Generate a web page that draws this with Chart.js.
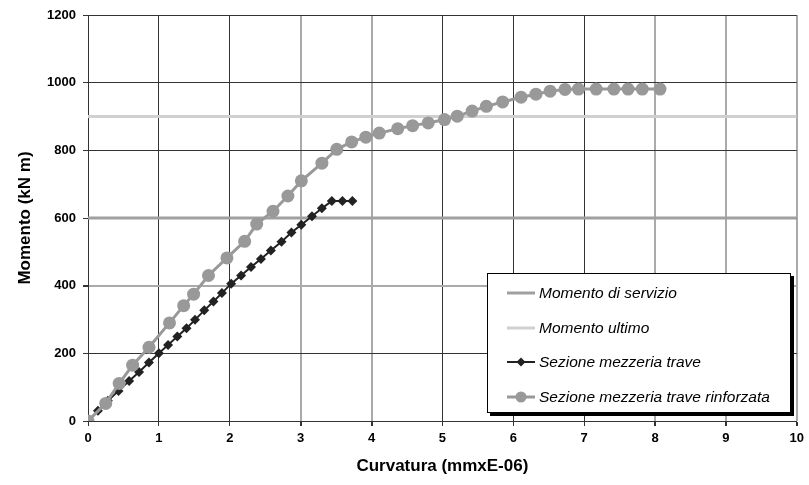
<!DOCTYPE html>
<html>
<head>
<meta charset="utf-8">
<script src="https://cdn.jsdelivr.net/npm/chart.js@4.4.0/dist/chart.umd.min.js"></script>
<style>
  body { margin: 0; background: #fff; }
  #wrap { position: relative; width: 809px; height: 485px; }
  #legenda {
    position: absolute; left: 487px; top: 273px; width: 304px; height: 140px;
    box-sizing: border-box; border: 1px solid #000; background: #fff;
    box-shadow: 3px 3px 0 #000;
    font-family: "Liberation Sans", Arial, sans-serif; font-style: italic; font-size: 15.5px; color: #000;
    padding-top: 2px;
  }
  #legenda .voce { height: 34.5px; display: flex; align-items: center; }
  #legenda svg { margin-left: 19px; margin-right: 4px; }
</style>
</head>
<body>
<div id="wrap">
  <canvas id="grafico" width="809" height="485"></canvas>
  <div id="legenda"></div>
</div>
<script>
// linee orizzontali (momento di servizio / ultimo)
let lineaX = [0, 10];
let servizio = [600, 600];
let ultimo = [900, 900];

// sezione mezzeria trave
let traveX = [0, 0.14, 0.28, 0.43, 0.58, 0.72, 0.86, 1.0, 1.13, 1.26, 1.39, 1.51, 1.64, 1.77, 1.89, 2.02, 2.16, 2.30, 2.44, 2.58, 2.73, 2.87, 3.01, 3.16, 3.30, 3.44, 3.59, 3.73];
let traveY = [0, 30, 60, 89, 118, 145, 173, 200, 225, 250, 274, 299, 327, 353, 378, 406, 430, 455, 479, 504, 530, 557, 580, 605, 629, 650, 650, 650];

// sezione mezzeria trave rinforzata
let rinfX = [0, 0.25, 0.44, 0.63, 0.86, 1.15, 1.35, 1.49, 1.70, 1.96, 2.21, 2.38, 2.61, 2.82, 3.01, 3.30, 3.51, 3.72, 3.92, 4.11, 4.37, 4.58, 4.80, 5.03, 5.21, 5.42, 5.62, 5.85, 6.11, 6.32, 6.52, 6.73, 6.92, 7.17, 7.42, 7.62, 7.82, 8.07];
let rinfY = [0, 52, 111, 165, 218, 290, 341, 375, 430, 482, 531, 582, 620, 665, 710, 762, 803, 825, 839, 851, 864, 873, 881, 891, 901, 916, 930, 943, 957, 966, 975, 980, 981, 981, 981, 981, 981, 981];

let xTicks = [0, 1, 2, 3, 4, 5, 6, 7, 8, 9, 10];
let yTicks = [0, 200, 400, 600, 800, 1000, 1200];

function punti(xs, ys) {
    return xs.map((x, i) => ({ x: x, y: ys[i] }));
}

let font = '"Liberation Sans", Arial, sans-serif';
let scuro = '#333333';
let chiaro = '#aaaaaa';

// griglia: alcune linee escono più chiare, come nell'originale
function coloreX(c) {
    let v = c.tick ? c.tick.value : 0;
    return [3, 4, 8, 9, 10].includes(v) ? chiaro : scuro;
}
function spessoreX(c) {
    let v = c.tick ? c.tick.value : 0;
    return [3, 4, 8, 9, 10].includes(v) ? 2 : 1;
}
function coloreY(c) {
    let v = c.tick ? c.tick.value : 0;
    return v == 400 ? chiaro : scuro;
}
function spessoreY(c) {
    let v = c.tick ? c.tick.value : 0;
    return v == 400 ? 2 : 1;
}

let grafico = new Chart(document.getElementById('grafico'), {
    type: 'line',
    data: {
        datasets: [
            {
                label: 'Momento di servizio',
                data: punti(lineaX, servizio),
                borderColor: '#a0a0a0',
                borderWidth: 3,
                pointRadius: 0,
                order: 3
            },
            {
                label: 'Momento ultimo',
                data: punti(lineaX, ultimo),
                borderColor: '#d0d0d0',
                borderWidth: 3,
                pointRadius: 0,
                order: 4
            },
            {
                label: 'Sezione mezzeria trave',
                data: punti(traveX, traveY),
                borderColor: '#222222',
                backgroundColor: '#222222',
                borderWidth: 2,
                pointStyle: 'rectRot',
                pointRadius: 5,
                pointBorderWidth: 0,
                order: 2
            },
            {
                label: 'Sezione mezzeria trave rinforzata',
                data: punti(rinfX, rinfY),
                borderColor: '#999999',
                backgroundColor: '#999999',
                borderWidth: 3,
                pointStyle: 'circle',
                pointRadius: 6.5,
                pointBorderWidth: 0,
                order: 1
            }
        ]
    },
    options: {
        responsive: false,
        animation: false,
        layout: { padding: { top: 15, right: 11 } },
        plugins: {
            legend: { display: false },
            tooltip: { enabled: false }
        },
        scales: {
            x: {
                type: 'linear',
                min: 0,
                max: 10,
                afterFit: s => { s.height = 64; },
                afterBuildTicks: s => { s.ticks = xTicks.map(v => ({ value: v })); },
                grid: { color: coloreX, lineWidth: spessoreX, tickLength: 5, tickColor: scuro },
                border: { color: scuro, width: 1 },
                ticks: { color: '#000', padding: 5, callback: v => String(v), font: { family: font, size: 13, weight: 'bold' } },
                title: {
                    display: true,
                    text: 'Curvatura (mmxE-06)',
                    color: '#000',
                    padding: { top: 0, bottom: 8 },
                    font: { family: font, size: 17, weight: 'bold' }
                }
            },
            y: {
                min: 0,
                max: 1200,
                afterFit: s => { s.width = 88; },
                afterBuildTicks: s => { s.ticks = yTicks.map(v => ({ value: v })); },
                grid: { color: coloreY, lineWidth: spessoreY, tickLength: 5, tickColor: scuro },
                border: { color: scuro, width: 1 },
                ticks: { color: '#000', padding: 7, callback: v => String(v), font: { family: font, size: 13, weight: 'bold' } },
                title: {
                    display: true,
                    text: 'Momento (kN m)',
                    color: '#000',
                    padding: { top: 15, bottom: 0 },
                    font: { family: font, size: 17, weight: 'bold' }
                }
            }
        }
    }
});

// legenda dentro il grafico, costruita dai dataset
let legenda = document.getElementById('legenda');
grafico.data.datasets.forEach(ds => {
    let marker = '';
    if (ds.pointStyle == 'rectRot') marker = '<polygon points="14,1.5 18.5,6 14,10.5 9.5,6" fill="' + ds.borderColor + '"/>';
    if (ds.pointStyle == 'circle') marker = '<circle cx="14" cy="6" r="5.5" fill="' + ds.borderColor + '"/>';
    let voce = document.createElement('div');
    voce.className = 'voce';
    voce.innerHTML = '<svg width="28" height="12"><line x1="0" y1="6" x2="28" y2="6" stroke="' + ds.borderColor +
        '" stroke-width="' + ds.borderWidth + '"/>' + marker + '</svg><span>' + ds.label + '</span>';
    legenda.appendChild(voce);
});
</script>
</body>
</html>
